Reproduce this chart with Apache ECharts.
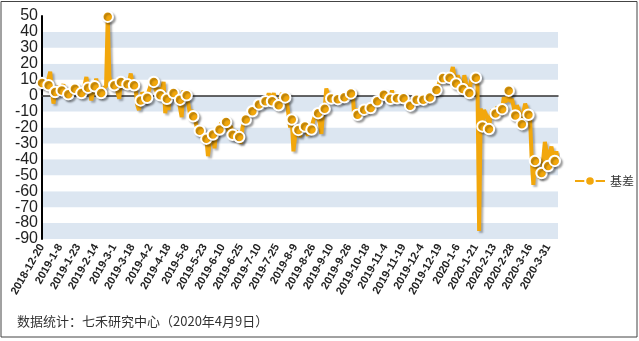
<!DOCTYPE html>
<html><head><meta charset="utf-8">
<script src="https://cdn.jsdelivr.net/npm/echarts@6/dist/echarts.min.js"></script>
<style>html,body{margin:0;padding:0;background:#fff}#c{width:639px;height:341px}</style>
</head><body><div id="c"></div>
<script>
// trading days per month (categories)
const monthDays = [
  ['2018-12', [20,21,24,25,26,27,28]],
  ['2019-1', [2,3,4,7,8,9,10,11,14,15,16,17,18,21,22,23,24,25,28,29,30,31]],
  ['2019-2', [1,11,12,13,14,15,18,19,20,21,22,25,26,27,28]],
  ['2019-3', [1,4,5,6,7,8,11,12,13,14,15,18,19,20,21,22,25,26,27,28,29]],
  ['2019-4', [1,2,3,4,8,9,10,11,12,15,16,17,18,19,22,23,24,25,26,29,30]],
  ['2019-5', [6,7,8,9,10,13,14,15,16,17,20,21,22,23,24,27,28,29,30,31]],
  ['2019-6', [3,4,5,6,10,11,12,13,14,17,18,19,20,21,24,25,26,27,28]],
  ['2019-7', [1,2,3,4,5,8,9,10,11,12,15,16,17,18,19,22,23,24,25,26,29,30,31]],
  ['2019-8', [1,2,5,6,7,8,9,12,13,14,15,16,19,20,21,22,23,26,27,28,29,30]],
  ['2019-9', [2,3,4,5,6,9,10,11,12,16,17,18,19,20,23,24,25,26,27,30]],
  ['2019-10', [8,9,10,11,14,15,16,17,18,21,22,23,24,25,28,29,30,31]],
  ['2019-11', [1,4,5,6,7,8,11,12,13,14,15,18,19,20,21,22,25,26,27,28,29]],
  ['2019-12', [2,3,4,5,6,9,10,11,12,13,16,17,18,19,20,23,24,25,26,27,30,31]],
  ['2020-1', [2,3,6,7,8,9,10,13,14,15,16,17,20,21,22,23]],
  ['2020-2', [3,4,5,6,7,10,11,12,13,14,17,18,19,20,21,24,25,26,27,28]],
  ['2020-3', [2,3,4,5,6,9,10,11,12,13,16,17,18,19,20,23,24,25,26,27,30,31]],
  ['2020-4', [1,2,3,7,8,9]]
];
const categories = [];
monthDays.forEach(function (m) { m[1].forEach(function (d) { categories.push(m[0] + '-' + d); }); });

// 基差 values
const basis = [
  8, 6, 5, 7,
  6.5, 15, 3, -5,
  2.3, 4, 6, 3,
  3.3, 7, 2, -2,
  0.8, 3, 5, 2,
  4.4, 6.5, 3, 1,
  1.6, 3, 7, 11.7,
  5, 3, -3, -2,
  5.9, 10.7, 4, -1,
  1.6, 4, 3, 6,
  49.6, 12, 8, 10,
  6.5, 9, 2, -2,
  8.6, 5, 9, 6,
  7.1, 9, 13.9, 8,
  6.5, 4, -6, -9,
  -3, 2, 0, -5,
  -1.3, 3, 6, 10,
  8.6, 4, 2, 5,
  0.2, 4, 8.6, -11,
  -2, -9, 2, 0,
  1.6, 3, -4, -2,
  -2.5, -13.5, 3.3, -2,
  0.2, -5, -11.4, -9,
  -13, -15, -19, -18,
  -22, -24, -23, -29,
  -27, -38, -30, -26,
  -24.4, -33, -22, -19,
  -21.3, -17, -20, -14,
  -16.6, -20, -25, -19,
  -24.6, -28, -22, -25,
  -26, -30, -20, -17,
  -15, -13, -11, -12,
  -9.8, -8, -9, -6,
  -5.5, -4, -6, -3,
  -3.5, -2, 1.5, -3,
  -3.5, 1.5, -3, -5,
  -6.1, -2, 1.6, -2,
  -1.1, -4, -12, -20,
  -15, -35, -26, -23,
  -21.5, -26, -20, -17,
  -19.3, -23, -25, -19,
  -21.3, -16, -13, -11,
  -11, -17, -24, -11,
  -8.2, 4.5, 1, -3,
  -1.8, 0, -4, -3,
  -2.2, -1, -3, -1.5,
  -1, 0, -2, 2,
  1.4, 2.5, -13.5, -8,
  -12, -10, -7, -11,
  -8.8, -6, -9, -5,
  -7.8, -6, -4, -5,
  -3.5, -2, -1, -3,
  0.6, 2, -3, 0,
  -2, 3.3, -2, -3,
  -1.7, 0, -4, -2,
  -1.7, -3, -5, -4,
  -6.3, -4, -3, -2,
  -2.6, -1, -4, -2,
  -2.5, -1, -3, 0,
  -1.1, 1, 2, 1,
  3.5, 6, 9, 8,
  11, 12, 9, 10,
  11.2, 14, 18, 12,
  7.6, 12.8, 9, 6,
  4.2, 12.8, 8, 5,
  1.6, 9, 12, 8,
  11.3, 6, -85, -8,
  -19.3, -9, -8, -14,
  -21, -12, -9, -13,
  -11.2, -7, -10, -6,
  -8.5, -1, -4, -2,
  3.1, -4, -2, -7,
  -12.4, -6, -9, -12,
  -17.9, -10, -5, -8,
  -12, -15, -40, -56,
  -41, -50, -45, -52,
  -48.6, -40, -29, -35,
  -44.2, -36, -32, -38,
  -41, -35, -42
];

const yMin = -90, yMax = 50, yStep = 10;
const seriesName = '基差';
const footer = '数据统计：七禾研究中心（2020年4月9日）';

const ORANGE = '#F2A70C';
const chart = echarts.init(document.getElementById('c'), null, {renderer: 'canvas'});
chart.setOption({
  animation: false,
  backgroundColor: '#fff',
  grid: {left: 42, right: 81, top: 16, bottom: 102, containLabel: false},
  legend: {
    data: [seriesName], left: 569, top: 170, itemWidth: 30, itemHeight: 12,
    textStyle: {fontSize: 12, color: '#333', fontFamily: 'Noto Sans CJK SC'}
  },
  xAxis: [
    {
      type: 'category', data: categories, boundaryGap: false,
      axisLine: {show: false, onZero: false}, axisTick: {show: false},
      splitLine: {show: false},
      axisLabel: {interval: 10, rotate: 60, fontSize: 11, fontWeight: 'bold', color: '#222', margin: 6, fontFamily: 'Liberation Sans'}
    },
    {
      type: 'category', data: categories, boundaryGap: false, position: 'bottom',
      axisLine: {show: true, onZero: true, lineStyle: {color: '#333', width: 1.5}},
      axisTick: {show: false}, axisLabel: {show: false}, splitLine: {show: false}
    }
  ],
  yAxis: {
    type: 'value', min: yMin, max: yMax, interval: yStep,
    axisLine: {show: true, lineStyle: {color: '#000', width: 2}},
    axisTick: {show: false}, splitLine: {show: false},
    splitArea: {show: true, areaStyle: {color: ['#DCE6F1', '#FFFFFF']}},
    axisLabel: {fontSize: 16, color: '#222', margin: 4, fontFamily: 'Liberation Sans'}
  },
  series: [{
    name: seriesName, type: 'line', data: basis, xAxisIndex: 0,
    showAllSymbol: true, symbol: 'circle',
    symbolSize: function (v, p) { return p.dataIndex % 4 === 0 ? 10.5 : 0; },
    lineStyle: {color: ORANGE, width: 4, shadowColor: 'rgba(0,0,0,0.3)', shadowBlur: 2, shadowOffsetX: 2, shadowOffsetY: 2},
    itemStyle: {color: ORANGE, borderColor: '#fff', borderWidth: 2, shadowColor: 'rgba(0,0,0,0.3)', shadowBlur: 2, shadowOffsetX: 2, shadowOffsetY: 2},
    emphasis: {disabled: true}
  }],
  graphic: [
    {type: 'rect', shape: {x: 1, y: 1.5, width: 636, height: 335.5}, style: {fill: 'none', stroke: '#444', lineWidth: 1}, silent: true},
    {type: 'text', left: 17, top: 315, style: {text: footer, font: '13px "Noto Sans CJK SC"', fill: '#333'}}
  ]
});
</script></body></html>
